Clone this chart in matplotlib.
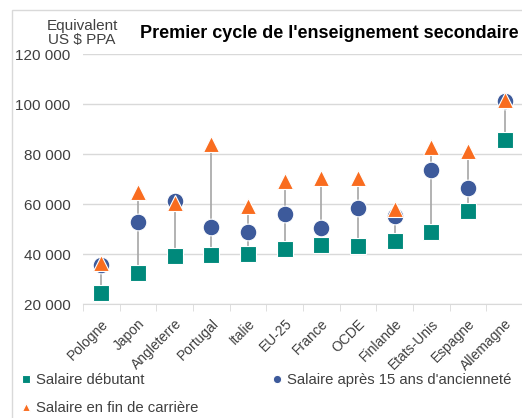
import matplotlib
matplotlib.use('Agg')
import matplotlib.pyplot as plt
from matplotlib.patches import Rectangle
from matplotlib.ticker import FuncFormatter, FixedLocator
import numpy as np

plt.rcParams['font.family'] = ['Liberation Sans', 'DejaVu Sans']

countries = ['Pologne', 'Japon', 'Angleterre', 'Portugal', 'Italie', 'EU-25', 'France',
             'OCDE', 'Finlande', 'Etats-Unis', 'Espagne', 'Allemagne']
salaire_debutant = [24300, 32500, 39300, 39600, 40000, 42000, 43500, 43200, 45200, 48800, 57300, 85600]
salaire_15ans = [35600, 52900, 61200, 50900, 48700, 56000, 50300, 58300, 55200, 73600, 66300, 101200]
salaire_fin = [36500, 64900, 60500, 84000, 59200, 69200, 70500, 70500, 58000, 83000, 81200, 101600]
yticks = [20000, 40000, 60000, 80000, 100000, 120000]

teal = '#00897b'
blue = '#3d5a9b'
orange = '#f96c1f'
grid_c = '#d9d9d9'
text_c = '#404040'

fig = plt.figure(figsize=(5.22, 4.18), dpi=100)
ax = fig.add_axes([83 / 522, 1 - 304 / 418, 440 / 522, 250 / 418])

x = np.arange(len(countries))
lo = np.minimum(np.minimum(salaire_debutant, salaire_15ans), salaire_fin)
hi = np.maximum(np.maximum(salaire_debutant, salaire_15ans), salaire_fin)
ax.vlines(x, lo, hi, color='#a6a6a6', lw=1.2, zorder=2)

ax.plot(x, salaire_debutant, 's', ms=12, color=teal, mec='white', mew=0.8,
        label='Salaire débutant', zorder=3)
ax.plot(x, salaire_15ans, 'o', ms=12, color=blue, mec='white', mew=0.8,
        label="Salaire après 15 ans d'ancienneté", zorder=4)
ax.plot(x, salaire_fin, '^', ms=12, color=orange, mec='white', mew=0.8,
        label='Salaire en fin de carrière', zorder=5)

ax.set_xlim(-0.5, len(countries) - 0.5)
ax.set_ylim(20000, 120000)
ax.set_yticks(yticks)
ax.yaxis.set_major_formatter(FuncFormatter(lambda v, p: f'{int(v):,}'.replace(',', ' ')))
ax.grid(axis='y', color=grid_c, lw=1, zorder=0)
ax.set_axisbelow(True)

ax.set_xticks(x)
ax.set_xticklabels(countries, rotation=45, ha='right', rotation_mode='anchor', fontsize=10, color=text_c)
ax.xaxis.set_minor_locator(FixedLocator(np.arange(-0.5, len(countries), 1)))
ax.tick_params(axis='x', which='major', length=0, pad=9)
ax.tick_params(axis='x', which='minor', length=5, color=grid_c)
ax.tick_params(axis='y', length=0, pad=9, labelsize=11, labelcolor=text_c)

for s in ['left', 'right', 'top']:
    ax.spines[s].set_visible(False)
ax.spines['bottom'].set_color(grid_c)

fig.text(82 / 522, 1 - 33 / 418, 'Equivalent\nUS $ PPA', ha='center', va='center',
         fontsize=11, color=text_c, linespacing=0.95)
fig.text(140 / 522, 1 - 33 / 418, "Premier cycle de l'enseignement secondaire",
         ha='left', va='center', fontsize=13, fontweight='bold')

h, l = ax.get_legend_handles_labels()
order = [0, 2, 1]
leg = fig.legend([h[i] for i in order], [l[i] for i in order], ncol=2,
                 loc='upper left', bbox_to_anchor=(22 / 522, 1 - 373 / 418),
                 frameon=False, fontsize=10.7, handlelength=0.6, handletextpad=0.35,
                 columnspacing=5.0, labelspacing=0.95, markerscale=0.5,
                 borderaxespad=0, borderpad=0)
for t in leg.get_texts():
    t.set_color(text_c)

fig.patches.append(Rectangle((12 / 522, -0.05), 1.0, 1 - 10 / 418 + 0.05,
                             transform=fig.transFigure, fill=False,
                             edgecolor=grid_c, lw=1))

fig.savefig('out.png', dpi=100)
